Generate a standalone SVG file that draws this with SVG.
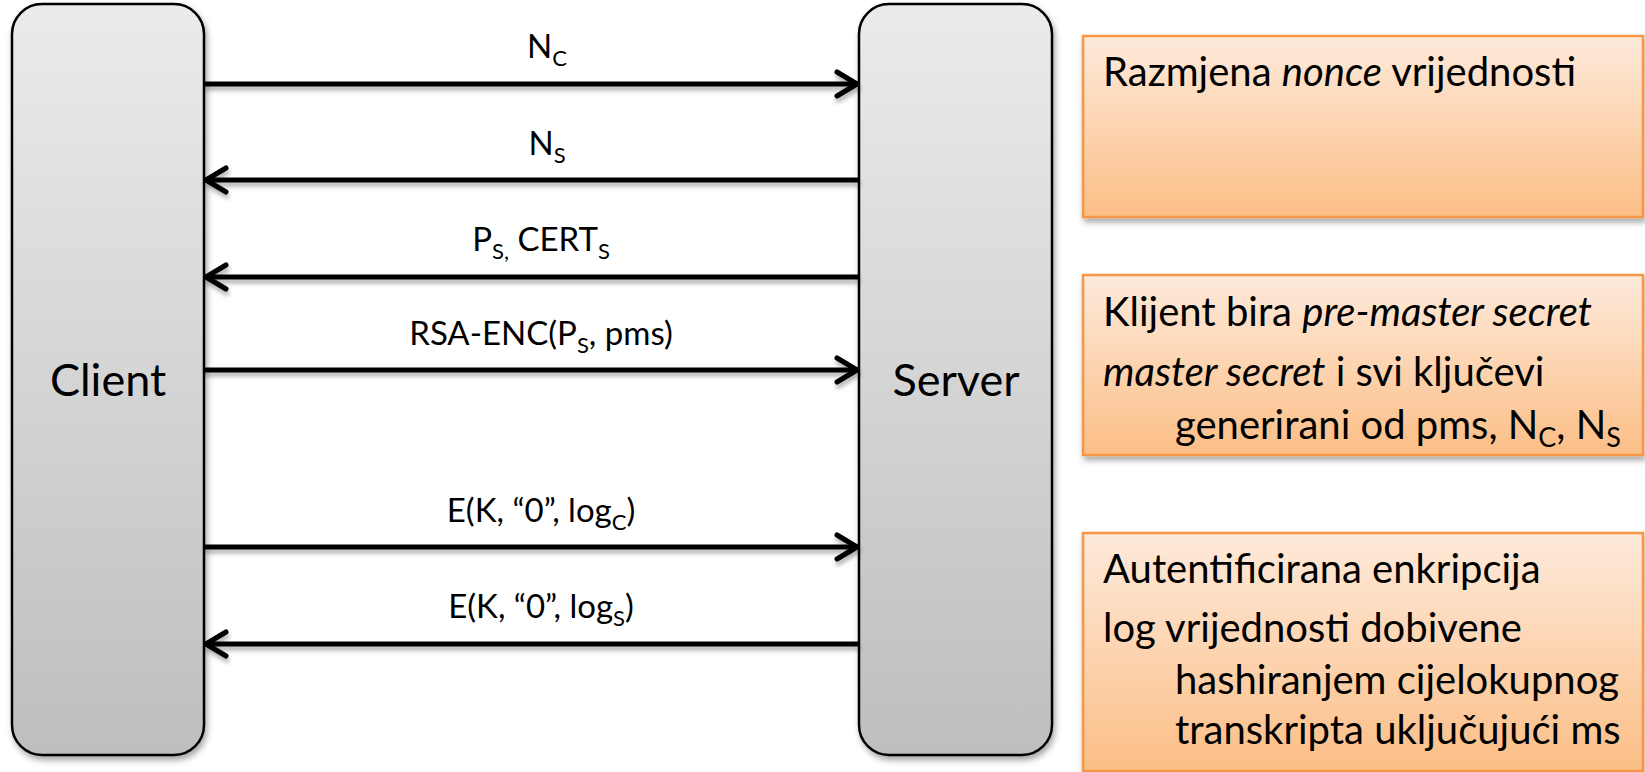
<svg xmlns="http://www.w3.org/2000/svg" width="1645" height="772" viewBox="0 0 1645 772">
<style>
.lbl{font-family:Lato,"Liberation Sans",sans-serif;font-size:33px;fill:#000;text-anchor:middle}
.big{font-family:Lato,"Liberation Sans",sans-serif;font-size:45px;fill:#000;text-anchor:middle}
.note{font-family:Lato,"Liberation Sans",sans-serif;font-size:40px;fill:#000}
.party{stroke:#000;stroke-width:2.5;fill:url(#gGray)}
.box{stroke:#F79646;stroke-width:2.5;fill:url(#gOrange)}
.msg{stroke:#000;stroke-width:5;fill:none}
</style>
<defs>
<linearGradient id="gGray" x1="0" y1="0" x2="0" y2="1">
<stop offset="0" stop-color="#EBEBEB"/>
<stop offset="1" stop-color="#BEBEBE"/>
</linearGradient>
<linearGradient id="gOrange" x1="0" y1="0" x2="0" y2="1">
<stop offset="0" stop-color="#FEEADB"/>
<stop offset="1" stop-color="#FBBE86"/>
</linearGradient>
<filter id="sh" x="-10%" y="-10%" width="130%" height="130%">
<feDropShadow dx="2" dy="4" stdDeviation="3" flood-color="#000" flood-opacity="0.35"/>
</filter>
<filter id="shl" x="-5%" y="-100%" width="110%" height="400%">
<feDropShadow dx="1" dy="4" stdDeviation="2" flood-color="#000" flood-opacity="0.3"/>
</filter>
<marker id="arr" markerUnits="userSpaceOnUse" viewBox="-28 -16 32 32" markerWidth="32" markerHeight="32" refX="0" refY="0" orient="auto">
<path d="M-22,-12 L-2,0 L-22,12" fill="none" stroke="#000" stroke-width="5" stroke-linecap="round" stroke-linejoin="round"/>
</marker>
</defs>
<rect width="1645" height="772" fill="#fff"/>

<g id="client">
<rect class="party" x="12" y="4" width="192" height="751" rx="30" filter="url(#sh)"/>
<text class="big" x="108" y="396">Client</text>
</g>

<g id="server">
<rect class="party" x="859" y="4" width="193" height="751" rx="30" filter="url(#sh)"/>
<text class="big" x="956" y="396">Server</text>
</g>

<g id="connectors" filter="url(#shl)">
<line class="msg" x1="204" y1="84" x2="859" y2="84" marker-end="url(#arr)"/>
<line class="msg" x1="859" y1="180" x2="204" y2="180" marker-end="url(#arr)"/>
<line class="msg" x1="859" y1="277" x2="204" y2="277" marker-end="url(#arr)"/>
<line class="msg" x1="204" y1="370" x2="859" y2="370" marker-end="url(#arr)"/>
<line class="msg" x1="204" y1="547" x2="859" y2="547" marker-end="url(#arr)"/>
<line class="msg" x1="859" y1="644" x2="204" y2="644" marker-end="url(#arr)"/>
</g>

<g id="labels">
<text class="lbl" x="547" y="58">N<tspan font-size="22" dy="8">C</tspan></text>
<text class="lbl" x="547" y="155">N<tspan font-size="22" dy="8">S</tspan></text>
<text class="lbl" x="541" y="251">P<tspan font-size="22" dy="8">S,</tspan><tspan dy="-8"> CERT</tspan><tspan font-size="22" dy="8">S</tspan></text>
<text class="lbl" x="541" y="345">RSA-ENC(P<tspan font-size="22" dy="8">S</tspan><tspan dy="-8">, pms)</tspan></text>
<text class="lbl" x="541" y="522">E(K, “0”, log<tspan font-size="22" dy="8">C</tspan><tspan dy="-8">)</tspan></text>
<text class="lbl" x="541" y="618">E(K, “0”, log<tspan font-size="22" dy="8">S</tspan><tspan dy="-8">)</tspan></text>
</g>

<g id="note1">
<rect class="box" x="1083" y="36" width="560" height="181" filter="url(#sh)"/>
<text class="note" x="1103" y="86">Razmjena <tspan font-style="italic">nonce</tspan> vrijednosti</text>
</g>

<g id="note2">
<rect class="box" x="1083" y="275" width="560" height="180" filter="url(#sh)"/>
<text class="note" x="1103" y="326">Klijent bira <tspan font-style="italic">pre-master secret</tspan></text>
<text class="note" x="1103" y="386"><tspan font-style="italic">master secret</tspan> i svi ključevi</text>
<text class="note" x="1175" y="439">generirani od pms, N<tspan font-size="27" dy="8">C</tspan><tspan dy="-8">, N</tspan><tspan font-size="27" dy="8">S</tspan></text>
</g>

<g id="note3">
<rect class="box" x="1083" y="533" width="560" height="238" filter="url(#sh)"/>
<text class="note" x="1103" y="583">Autentificirana enkripcija</text>
<text class="note" x="1103" y="642">log vrijednosti dobivene</text>
<text class="note" x="1175" y="694">hashiranjem cijelokupnog</text>
<text class="note" x="1175" y="744">transkripta uključujući ms</text>
</g>
</svg>
